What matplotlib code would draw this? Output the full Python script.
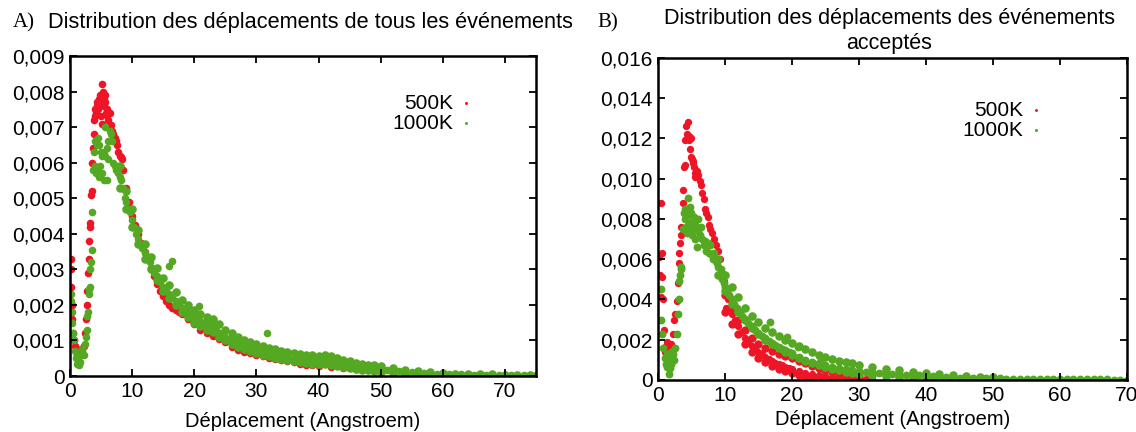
import matplotlib

matplotlib.use("Agg")
import matplotlib.pyplot as plt
import numpy as np
from matplotlib.ticker import FuncFormatter, MultipleLocator

plt.rcParams["font.family"] = ["Liberation Sans", "DejaVu Sans"]

C_500 = "#ee1526"
C_1000 = "#55a822"

# all y values below are in units of 1e-3

# --- A: all events, 500K ---------------------------------------------------
xa_500 = [0.1, 0.15, 0.2, 0.3, 0.4, 0.5, 0.6, 0.8, 1.0, 1.2, 1.4, 1.6, 1.8, 2.0, 2.2,
          2.4, 2.6, 2.7, 2.8, 2.9, 3.0, 3.1, 3.2, 3.3, 3.4, 3.5, 3.6, 3.7, 3.8,
          3.9, 4.0, 4.1, 4.2, 4.3, 4.4, 4.5, 4.6, 4.7, 4.8, 4.9, 5.0, 5.1, 5.2, 5.3,
          5.4, 5.5, 5.6, 5.7, 5.8, 5.9, 6.0, 6.2, 6.4, 6.6, 6.8, 7.0, 7.2, 7.4, 7.6,
          7.8, 8.0, 8.2, 8.4, 8.6, 9.0, 9.5,
          10, 10.5, 11, 11.5, 12, 12.5, 13, 13.5, 14, 14.5, 15, 15.5, 16, 16.5, 17,
          17.5, 18, 19, 20, 21, 22, 23, 24, 25, 26, 27, 28, 29, 30, 31, 32, 33, 34,
          35, 36, 37, 38, 39, 40, 42, 44, 46, 48, 50, 52, 54, 56, 58, 60, 62, 64,
          66, 68, 70, 72, 74]
ya_500 = [3.3, 3.0, 2.5, 2.0, 1.6, 1.2, 1.0, 0.85, 0.7, 0.6, 0.55, 0.6, 0.75, 0.7, 0.85,
          1.2, 1.6, 2.0, 2.4, 2.9, 3.3, 3.8, 4.2, 4.3, 5.1, 5.2, 6.0, 6.4, 6.8,
          7.2, 7.3, 7.5, 7.4, 7.6, 7.7, 7.5, 7.8, 7.7, 7.9, 7.6, 7.3, 8.2, 7.1, 8.0,
          7.8, 7.6, 7.9, 7.7, 7.4, 7.5, 7.35, 7.2, 7.4, 7.05, 6.9, 6.8, 6.7, 6.6, 6.5,
          6.3, 6.2, 6.15, 6.1, 5.8, 5.3, 4.9,
          4.5, 4.25, 4.0, 3.75, 3.5, 3.3, 3.05, 2.8, 2.6, 2.4, 2.25, 2.1, 2.0, 1.9, 1.85,
          1.8, 1.75, 1.6, 1.45, 1.3, 1.2, 1.12, 1.05, 0.95, 0.82, 0.72, 0.68, 0.65, 0.6,
          0.55, 0.5, 0.48, 0.45, 0.42, 0.4, 0.35, 0.3, 0.3, 0.28, 0.25, 0.22, 0.19,
          0.16, 0.13, 0.11, 0.09, 0.07, 0.05, 0.04, 0.03, 0.03, 0.02, 0.02, 0.02,
          0.01, 0.01]

# --- A: all events, 1000K --------------------------------------------------
xa_1000 = [0.1, 0.2, 0.3, 0.4, 0.5, 0.6, 0.8, 1.0, 1.2, 1.4, 1.6, 1.8, 2.0, 2.2, 2.4,
           2.6, 2.7, 2.8, 2.9, 3.0, 3.1, 3.2, 3.3, 3.4, 3.5, 3.6, 3.7,
           3.9, 4.0, 4.1, 4.2, 4.3, 4.4, 4.5, 4.6, 4.7, 4.8, 5.0, 5.1, 5.2, 5.4, 5.5,
           5.6, 5.7, 5.9, 6.0, 6.1, 6.2, 6.4, 6.6, 6.8, 7.0, 7.2, 7.4, 7.6, 7.8, 8.0,
           8.2, 8.5, 8.8, 9.0, 9.3, 9.6, 10.0, 10.3, 10.6, 11.0, 11.3, 11.6, 12.0,
           12.4, 12.8, 13.2, 13.6, 14.0, 14.5, 15.0, 15.5, 16.0, 16.5, 17.0, 17.5,
           18.0, 18.5, 19.0, 19.5, 20.0, 20.5, 21.0, 21.5, 22.0, 22.5, 23.0, 23.5,
           24.0, 24.5, 25.0, 25.5, 26.0, 26.5, 27.0, 27.5, 28, 29, 30, 31, 32, 33,
           34, 35, 36, 37, 38, 39, 40, 41, 42, 43, 44, 45, 46, 47, 48, 49, 50, 51,
           52, 53, 54, 55, 56, 57, 58, 59,
           60, 61, 62, 63, 64, 65, 66, 67, 68, 69, 70, 71, 72, 73, 74, 75,
           15.9, 16.4, 20.8, 31.7]
ya_1000 = [2.3, 2.1, 1.8, 1.5, 1.2, 1.0, 0.7, 0.5, 0.35, 0.3, 0.4, 0.6, 0.75, 0.6, 0.9,
           1.1, 1.3, 1.7, 1.8, 2.3, 2.45, 2.5, 3.0, 3.2, 3.55, 4.6, 5.8,
           6.3, 5.9, 6.6, 5.7, 6.5, 5.8, 6.7, 5.6, 6.5, 5.9, 6.3, 5.7, 6.2, 5.5, 6.3,
           7.0, 6.2, 5.5, 6.4, 6.1, 6.6, 6.9, 6.8, 6.6, 6.0, 5.9, 5.8, 5.9, 5.7, 5.6,
           5.5, 5.3, 5.0, 4.9, 4.7, 4.6, 4.4, 4.2, 4.0, 3.85, 3.7, 3.6, 3.45,
           3.3, 3.2, 3.05, 2.9, 2.8, 2.65, 2.5, 2.4, 2.3, 2.2, 2.1, 2.0,
           1.9, 1.85, 1.8, 1.7, 1.65, 1.6, 1.55, 1.5, 1.5, 1.45, 1.4, 1.3,
           1.2, 1.15, 1.1, 1.05, 1.0, 0.95, 0.92, 0.88, 0.85, 0.8, 0.75, 0.7, 0.65, 0.6,
           0.57, 0.54, 0.52, 0.5, 0.48, 0.46, 0.45, 0.43, 0.42, 0.38, 0.35, 0.33, 0.3,
           0.27, 0.24, 0.22, 0.2, 0.18, 0.16, 0.14, 0.12, 0.1, 0.09, 0.08, 0.07, 0.06,
           0.06, 0.05, 0.05, 0.05, 0.04, 0.04, 0.04, 0.03, 0.03, 0.03, 0.03, 0.03,
           0.02, 0.03, 0.02, 0.02,
           3.1, 3.24, 1.97, 1.2]

# upper and lower edges of the 1000K band in A
xa_band = [8, 9, 10, 11, 12, 13, 14, 15, 16, 17, 18, 19, 20, 21, 22, 23, 24, 25, 26, 27,
           28, 29, 30, 31, 32, 33, 34, 35, 36, 37, 38, 39, 40, 41, 42, 43, 44, 45, 46,
           47, 48, 49, 50, 52, 54, 56, 58, 60, 62, 64, 66, 68, 70, 72, 74]
ya_band_hi = [5.9, 5.2, 4.7, 4.1, 3.7, 3.35, 3.05, 2.75, 2.55, 2.35, 2.15, 2.0, 1.85,
              1.75, 1.65, 1.6, 1.45, 1.3, 1.2, 1.1, 1.0, 0.95, 0.9, 0.85, 0.8, 0.75,
              0.7, 0.68, 0.65, 0.63, 0.6, 0.58, 0.56, 0.6, 0.55, 0.5, 0.45, 0.42, 0.38,
              0.35, 0.32, 0.3, 0.27, 0.22, 0.18, 0.14, 0.1, 0.08, 0.07, 0.06, 0.05,
              0.05, 0.04, 0.04, 0.03]
ya_band_lo = [5.3, 4.7, 4.2, 3.7, 3.3, 3.0, 2.7, 2.4, 2.2, 2.0, 1.8, 1.65, 1.5, 1.4,
              1.3, 1.25, 1.1, 1.0, 0.9, 0.82, 0.75, 0.7, 0.65, 0.6, 0.55, 0.5, 0.47,
              0.44, 0.42, 0.4, 0.37, 0.35, 0.34, 0.33, 0.3, 0.28, 0.25, 0.22, 0.2, 0.18,
              0.16, 0.14, 0.12, 0.09, 0.06, 0.04, 0.03, 0.02, 0.02, 0.01, 0.01, 0.01,
              0.01, 0.01, 0.01]

# --- B: accepted events, 500K ----------------------------------------------
xb_500 = [0.2, 0.3, 0.4, 0.5, 0.55, 0.6, 0.75, 0.9, 1.0, 1.2, 1.4, 1.5, 1.7, 1.8, 2.0,
          2.2, 2.4, 2.6, 2.8, 3.0, 3.1, 3.2, 3.3, 3.4, 3.5, 3.7, 3.8,
          3.9, 4.0, 4.1, 4.2, 4.3, 4.4, 4.5, 4.6, 4.7, 4.8, 4.9, 5.0, 5.1, 5.2, 5.3,
          5.4, 5.5, 5.6, 5.8, 6.0, 6.2, 6.4, 6.6, 6.8, 7.0, 7.2, 7.4, 7.6, 7.8, 8.0,
          8.3, 8.6, 9.0, 9.3, 9.6, 9.8, 10.0, 10.2, 10.5, 10.8, 11.0, 11.5, 12.0, 12.5,
          13.0, 13.5, 14.0, 14.5, 15.0, 15.5, 16.0, 16.5, 17.0, 17.5, 18.0, 18.5,
          19.0, 19.5, 20.0, 21, 22, 23, 24, 25, 26, 27, 28, 29, 30, 31, 32, 34, 36,
          38, 40]
yb_500 = [6.1, 5.2, 4.1, 8.8, 6.3, 5.1, 4.0, 2.5, 1.4, 1.7, 1.9, 1.2, 1.6, 0.9, 1.8,
          2.3, 3.0, 3.3, 3.9, 4.8, 5.8, 6.3, 6.8, 7.2, 7.6, 8.8, 9.45,
          10.6, 10.7, 11.9, 12.6, 12.0, 12.2, 12.8, 11.9, 12.1, 11.5, 12.0, 11.1,
          11.0, 10.8, 10.9, 10.6, 10.3, 10.1, 10.4, 10.2, 9.9, 9.7, 9.3, 9.0, 8.5,
          8.3, 8.1, 7.7, 7.5, 7.3, 7.0, 6.7, 6.4, 6.0, 5.3, 4.9, 4.6, 3.6, 4.0, 3.6,
          3.3, 3.0, 2.7, 2.4, 2.1, 1.9, 1.7, 1.55, 1.4, 1.3, 1.15, 1.05, 0.95, 0.85,
          0.8, 0.72, 0.65, 0.6, 0.55, 0.45, 0.37, 0.3, 0.25, 0.2, 0.16, 0.13, 0.1,
          0.08, 0.06, 0.05, 0.04, 0.03, 0.02, 0.02, 0.01]

xb_500_band = [10, 11, 12, 13, 14, 15, 16, 17, 18, 19, 20, 21, 22, 23, 24, 25, 26, 27,
               28, 30]
yb_500_hi = [4.2, 3.6, 3.0, 2.5, 2.1, 1.8, 1.6, 1.45, 1.3, 1.2, 1.1, 0.95, 0.85, 0.7,
             0.6, 0.5, 0.4, 0.33, 0.25, 0.15]
yb_500_lo = [3.4, 2.8, 2.3, 1.8, 1.4, 1.1, 0.9, 0.7, 0.55, 0.45, 0.35, 0.25, 0.2, 0.15,
             0.1, 0.08, 0.06, 0.05, 0.04, 0.02]

# --- B: accepted events, 1000K ---------------------------------------------
xb_1000 = [0.4, 0.5, 0.6, 0.8, 1.0, 1.2, 1.3, 1.4, 1.5, 1.6, 1.7, 1.8, 1.9, 2.0, 2.2,
           2.4, 2.6, 2.8, 3.0, 3.1, 3.2, 3.3, 3.4, 3.5,
           3.8, 3.9, 4.0, 4.1, 4.2, 4.3, 4.4, 4.5, 4.6, 4.7, 4.8, 4.9, 5.0, 5.1, 5.2,
           5.3, 5.4, 5.5, 5.6, 5.8, 5.9, 6.0, 6.2, 6.4, 6.6, 6.8, 7.0, 7.2, 7.4, 7.6,
           7.8, 8.0, 8.2, 8.4, 8.6, 8.8, 9.0, 9.2, 9.4, 9.6, 9.8, 10.0, 10.3, 10.6,
           11.0, 11.4, 11.8, 12.2, 12.6, 13.0, 13.5, 14.0, 14.5, 15.0, 15.5, 16.0,
           16.5, 17.0, 17.5, 18.0, 18.5, 19.0, 19.5, 20.0, 21, 22, 23, 24, 25, 26, 27,
           28, 29, 30, 31, 32, 33, 34, 35, 36, 37, 38,
           39, 40, 41, 42, 43, 44, 45, 46, 47, 48, 49, 50, 51, 52, 53, 54,
           55, 56, 57, 58, 59, 60, 61, 62, 63, 64, 65, 66, 67, 68, 69, 70,
           16.7, 19.2, 20.9, 24.3]
yb_1000 = [4.5, 3.0, 2.3, 1.6, 1.1, 0.8, 1.3, 0.65, 0.9, 0.3, 1.1, 0.6, 1.4, 0.8, 1.3,
           1.0, 1.6, 2.3, 3.3, 4.0, 4.9, 5.2, 5.6, 5.5,
           7.5, 8.3, 8.0, 8.5, 7.6, 8.2, 7.3, 9.05, 8.4, 7.8, 8.6, 7.5, 8.3, 7.2, 8.0,
           7.6, 8.1, 7.0, 7.7, 6.6, 7.4, 8.0, 7.2, 7.6, 7.0, 6.7, 6.9, 6.4, 6.8, 6.3,
           6.7, 6.2, 6.0, 6.3, 5.9, 5.8, 5.6, 5.2, 5.5, 5.0, 4.8, 4.6, 4.4, 4.2,
           4.0, 3.8, 3.6, 3.4, 3.2, 3.05, 2.85, 2.7, 2.5, 2.35, 2.2, 2.1,
           1.95, 1.85, 1.75, 1.65, 1.55, 1.5, 1.4, 1.35, 1.15, 1.0, 0.9, 0.82, 0.72,
           0.66, 0.6, 0.55, 0.5, 0.46, 0.42, 0.39, 0.36, 0.33, 0.31, 0.29, 0.27, 0.25,
           0.23, 0.21, 0.19, 0.17, 0.15, 0.13, 0.12, 0.11, 0.1, 0.09, 0.09, 0.08,
           0.08, 0.07, 0.07, 0.06,
           0.06, 0.05, 0.05, 0.05, 0.04, 0.04, 0.04, 0.04, 0.03, 0.03, 0.03, 0.03,
           0.03, 0.02, 0.02, 0.02,
           2.9, 2.15, 1.65, 1.0]

xb_1000_band = [9, 10, 11, 12, 13, 14, 15, 16, 17, 18, 19, 20, 21, 22, 23, 24, 25, 26,
                27, 28, 29, 30, 32, 34, 36, 38, 40, 42, 44, 46, 48, 50]
yb_1000_hi = [6.0, 5.2, 4.6, 4.1, 3.6, 3.2, 2.9, 2.6, 2.4, 2.2, 2.0, 1.85, 1.7, 1.55,
              1.4, 1.25, 1.15, 1.05, 0.95, 0.88, 0.82, 0.75, 0.65, 0.55, 0.48, 0.42,
              0.36, 0.3, 0.25, 0.2, 0.17, 0.14]
yb_1000_lo = [5.2, 4.4, 3.8, 3.4, 3.0, 2.6, 2.3, 2.0, 1.8, 1.6, 1.4, 1.25, 1.1, 0.95,
              0.85, 0.75, 0.65, 0.55, 0.48, 0.42, 0.36, 0.3, 0.24, 0.2, 0.16, 0.12,
              0.1, 0.08, 0.06, 0.05, 0.04, 0.03]


def comma_fmt(v, _pos):
    if abs(v) < 1e-12:
        return "0"
    return f"{v:.3f}".replace(".", ",")


def style_axes(ax, xmax, ymax, ystep, labelpad):
    ax.set_xlim(0, xmax)
    ax.set_ylim(0, ymax)
    ax.xaxis.set_major_locator(MultipleLocator(10))
    ax.yaxis.set_major_locator(MultipleLocator(ystep))
    ax.yaxis.set_major_formatter(FuncFormatter(comma_fmt))
    ax.tick_params(direction="in", top=True, right=True, length=5, width=1.3,
                   labelsize=15, pad=4)
    for sp in ax.spines.values():
        sp.set_linewidth(1.8)
    ax.set_xlabel("Déplacement (Angstroem)", fontsize=14.5, labelpad=labelpad)


def scatter_set(ax, xs, ys, color, size, label=None):
    ax.scatter(xs, np.asarray(ys) * 1e-3, s=size, color=color, lw=0, label=label)


fig = plt.figure(figsize=(11.36, 4.32), dpi=100)
axA = fig.add_axes([0.0616, 0.1296, 0.4102, 0.7407])
axB = fig.add_axes([0.5792, 0.1204, 0.4129, 0.7454])

# --- A ----------------------------------------------------------------------
scatter_set(axA, xa_500, ya_500, C_500, 30, "500K")
scatter_set(axA, xa_1000, ya_1000, C_1000, 30, "1000K")
scatter_set(axA, xa_band, ya_band_hi, C_1000, 38)
scatter_set(axA, xa_band, ya_band_lo, C_1000, 38)
style_axes(axA, 75, 0.009, 0.001, 8)
axA.legend(loc="upper right", bbox_to_anchor=(0.89, 0.915), frameon=False,
           markerfirst=False, fontsize=15, markerscale=0.4, handletextpad=0.2,
           labelspacing=0.05, borderpad=0, handlelength=0.8)

# --- B ----------------------------------------------------------------------
scatter_set(axB, xb_500, yb_500, C_500, 28, "500K")
scatter_set(axB, xb_500_band, yb_500_hi, C_500, 36)
scatter_set(axB, xb_500_band, yb_500_lo, C_500, 36)
scatter_set(axB, xb_1000, yb_1000, C_1000, 32, "1000K")
scatter_set(axB, xb_1000_band, yb_1000_hi, C_1000, 38)
scatter_set(axB, xb_1000_band, yb_1000_lo, C_1000, 38)
style_axes(axB, 70, 0.016, 0.002, 4)
axB.legend(loc="upper right", bbox_to_anchor=(0.845, 0.9), frameon=False,
           markerfirst=False, fontsize=15, markerscale=0.4, handletextpad=0.2,
           labelspacing=0.05, borderpad=0, handlelength=0.8)

# panel titles
fig.text(0.011, 0.948, "A)", family="Liberation Serif", fontsize=15, va="center")
fig.text(0.042, 0.948, "Distribution des déplacements de tous les événements",
         fontsize=15.7, va="center")
fig.text(0.526, 0.948, "B)", family="Liberation Serif", fontsize=15, va="center")
fig.text(0.783, 0.958, "Distribution des déplacements des événements",
         fontsize=15.5, va="center", ha="center")
fig.text(0.783, 0.9, "acceptés", fontsize=15.5, va="center", ha="center")

fig.savefig("out.png", dpi=100)
